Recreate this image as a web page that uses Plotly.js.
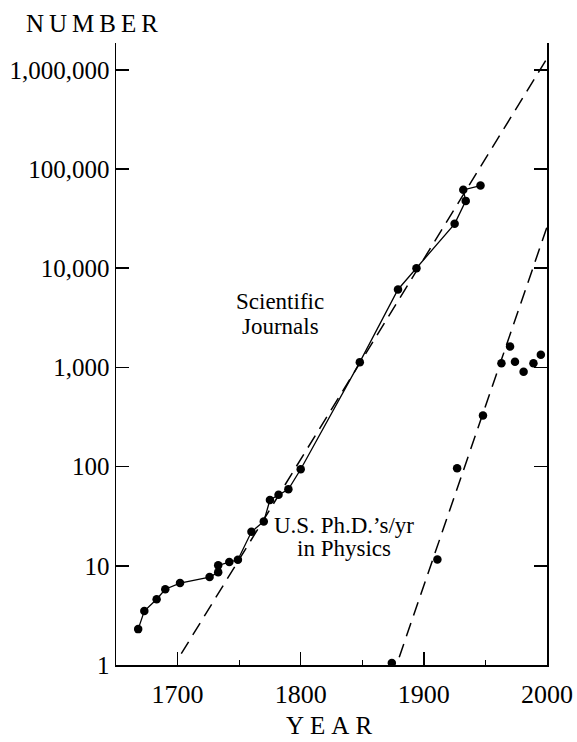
<!DOCTYPE html>
<html>
<head>
<meta charset="utf-8">
<script src="https://cdn.plot.ly/plotly-3.0.1.min.js"></script>
<style>html,body{margin:0;padding:0;background:#fff;}</style>
</head>
<body>
<div id="chart" style="width:577px;height:742px;"></div>
<script>
// Scientific journals (count vs year)
var journalYears = [1668, 1673, 1683, 1690, 1702, 1726, 1733, 1733, 1742, 1749, 1760, 1770, 1775, 1782, 1790, 1800, 1848, 1879, 1894, 1925, 1934, 1932, 1946];
var journalCounts = [2.3, 3.5, 4.6, 5.8, 6.7, 7.7, 8.6, 10.1, 10.9, 11.5, 22, 28, 46, 52, 59, 94, 1130, 6100, 10000, 28000, 47700, 61600, 68000];

// U.S. Ph.D.'s per year in physics
var phdYears = [1874, 1911, 1927, 1948, 1963, 1970, 1974, 1981, 1989, 1995];
var phdCounts = [1.05, 11.6, 96, 327, 1100, 1620, 1140, 905, 1100, 1340];

// Exponential trend lines (end points)
var journalTrendYears = [1703, 2000];
var journalTrendCounts = [1.3, 1300000];
var phdTrendYears = [1880, 2000];
var phdTrendCounts = [1.2, 26000];

// Axis ticks
var xTickVals = [1700, 1800, 1900, 2000];
var xTickText = ['1700', '1800', '1900', '2000'];
var yTickVals = [1, 10, 100, 1000, 10000, 100000, 1000000];
var yTickText = ['1', '10', '100', '1,000', '10,000', '100,000', '1,000,000'];

var FONT = '"Liberation Serif", "Times New Roman", serif';

var traces = [
  {x: journalTrendYears, y: journalTrendCounts, mode: 'lines', type: 'scatter',
   line: {color: '#000', width: 1.5, dash: '14px,8px'}, hoverinfo: 'skip'},
  {x: phdTrendYears, y: phdTrendCounts, mode: 'lines', type: 'scatter',
   line: {color: '#000', width: 1.5, dash: '14px,8px'}, hoverinfo: 'skip'},
  {x: journalYears, y: journalCounts, mode: 'lines+markers', type: 'scatter',
   line: {color: '#000', width: 1.3}, marker: {color: '#000', size: 8.5}},
  {x: phdYears, y: phdCounts, mode: 'markers', type: 'scatter',
   marker: {color: '#000', size: 8.5}}
];

var annFont = {family: FONT, size: 23, color: '#000'};
var layout = {
  width: 577, height: 742,
  margin: {l: 116, r: 30, t: 43, b: 77},
  paper_bgcolor: '#fff', plot_bgcolor: '#fff',
  showlegend: false,
  xaxis: {
    range: [1650, 2000], showgrid: false, zeroline: false,
    showline: true, linecolor: '#000', linewidth: 1.5,
    ticks: 'inside', ticklen: 13, tickwidth: 1.5, tickcolor: '#000',
    tickmode: 'array', tickvals: xTickVals, ticktext: xTickText,
    tickfont: {family: FONT, size: 26, color: '#000'},
    ticklabelstandoff: 5,
    minor: {tickmode: 'array', tickvals: [1750, 1850, 1950], ticks: 'inside', ticklen: 5, tickwidth: 1.2, tickcolor: '#000', showgrid: false}
  },
  yaxis: {
    type: 'log', range: [0, 6.27], showgrid: false, zeroline: false,
    showline: true, linecolor: '#000', linewidth: 1.5, mirror: 'ticks',
    ticks: 'inside', ticklen: 13, tickwidth: 1.5, tickcolor: '#000',
    tickmode: 'array', tickvals: yTickVals, ticktext: yTickText,
    tickfont: {family: FONT, size: 25, color: '#000'},
    ticklabelstandoff: 0
  },
  annotations: [
    {text: 'Scientific', x: 1783.2, y: 3.66, xref: 'x', yref: 'y', showarrow: false, font: annFont},
    {text: 'Journals', x: 1783.2, y: 3.41, xref: 'x', yref: 'y', showarrow: false, font: annFont},
    {text: 'U.S. Ph.D.\u2019s/yr', x: 1835.2, y: 1.405, xref: 'x', yref: 'y', showarrow: false, font: annFont},
    {text: 'in Physics', x: 1835.2, y: 1.175, xref: 'x', yref: 'y', showarrow: false, font: annFont},
    {text: '<span style="letter-spacing:5px">NUMBER</span>', x: -0.05, y: 1.031, xref: 'paper', yref: 'paper',
     xanchor: 'center', yanchor: 'middle', showarrow: false, font: {family: FONT, size: 25, color: '#000'}},
    {text: '<span style="letter-spacing:6px">YEAR</span>', x: 0.5, y: -0.098, xref: 'paper', yref: 'paper',
     xanchor: 'center', yanchor: 'middle', showarrow: false, borderpad: 0, font: {family: FONT, size: 25, color: '#000'}}
  ]
};

Plotly.newPlot('chart', traces, layout, {displayModeBar: false, staticPlot: true});
</script>
</body>
</html>
